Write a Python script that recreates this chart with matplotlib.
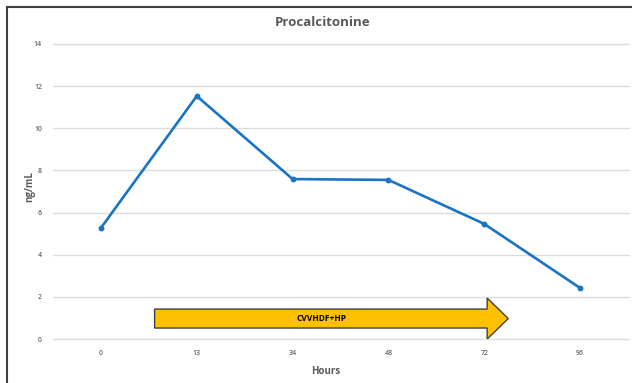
import matplotlib
matplotlib.use("Agg")
import matplotlib.pyplot as plt
from matplotlib.patches import FancyArrow
from matplotlib.lines import Line2D

hours = ["0", "13", "34", "48", "72", "96"]
pct = [5.27, 11.53, 7.59, 7.55, 5.46, 2.42]
y_ticks = [0, 2, 4, 6, 8, 10, 12, 14]
arrow_label = "CVVHDF+HP"
arrow_start, arrow_end = 0.56, 4.25
arrow_y = 0.97

W, H = 632, 383
fig = plt.figure(figsize=(W / 100, H / 100), dpi=100)
plt.rcParams['font.family'] = ['Open Sans', 'DejaVu Sans']

ax = fig.add_axes([53 / W, (H - 339) / H, (629 - 53) / W, (339 - 44) / H])
x = list(range(len(hours)))
ax.plot(x, pct, color="#1a73c4", lw=1.9, marker="o", ms=3.2, zorder=3)
ax.set_xlim(-0.5, 5.51)
ax.set_ylim(0, 14)
ax.set_xticks(x)
ax.set_xticklabels(hours)
ax.set_yticks(y_ticks)
ax.tick_params(length=0, labelsize=5, colors="#666666", pad=8)
for t in ax.get_xticklabels() + ax.get_yticklabels():
    t.set_fontweight("semibold")
ax.grid(axis="y", color="#dcdcdc", lw=1)
for gl in ax.get_ygridlines():
    gl.set_clip_on(False)
ax.set_axisbelow(True)
for s in ax.spines.values():
    s.set_visible(False)

arr = FancyArrow(arrow_start, arrow_y, arrow_end - arrow_start, 0, width=0.9,
                 head_width=1.95, head_length=0.22, length_includes_head=True,
                 facecolor="#ffc000", edgecolor="#404040", lw=1, zorder=4)
ax.add_patch(arr)
ax.text(2.30, arrow_y, arrow_label, ha="center", va="center", fontsize=6,
        fontweight="bold", color="#000000", zorder=5)

fig.text(323 / W, 1 - 22 / H, "Procalcitonine", ha="center", va="center",
         fontsize=9.5, fontweight="bold", color="#595959")
fig.text(326 / W, 1 - 371 / H, "Hours", ha="center", va="center",
         fontsize=7, fontweight="bold", color="#595959")
fig.text(30 / W, 1 - 187 / H, "ng/mL", ha="center", va="center", rotation=90,
         fontsize=7, fontweight="bold", color="#595959")

fig.add_artist(Line2D([7 / W, 7 / W], [0, 1 - 7 / H], transform=fig.transFigure,
                      color="#404040", lw=1.5))
fig.add_artist(Line2D([7 / W, 1], [1 - 7 / H, 1 - 7 / H], transform=fig.transFigure,
                      color="#404040", lw=1.5))

fig.savefig("out.png", dpi=100)
